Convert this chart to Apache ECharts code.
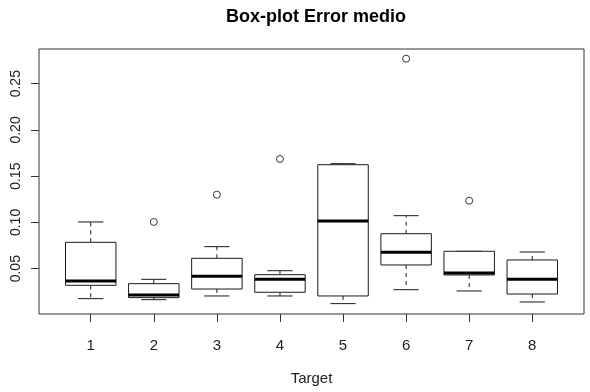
<!DOCTYPE html>
<html>
<head>
<meta charset="utf-8">
<style>
  html, body { margin: 0; padding: 0; background: #fff; }
  #chart { width: 590px; height: 392px; }
</style>
<script src="https://cdn.jsdelivr.net/npm/echarts@6/dist/echarts.min.js"></script>
</head>
<body>
<div id="chart"></div>
<script>
// categorias (Target) y estadisticos de cada caja
const categories = ['1', '2', '3', '4', '5', '6', '7', '8'];
const lowWhisker = [0.0176, 0.0165, 0.0205, 0.0205, 0.0122, 0.0273, 0.0259, 0.0140];
const q1 = [0.0320, 0.0187, 0.0280, 0.0245, 0.0205, 0.0540, 0.0432, 0.0226];
const median = [0.0367, 0.0216, 0.0418, 0.0385, 0.1016, 0.0677, 0.0453, 0.0385];
const q3 = [0.0785, 0.0338, 0.0612, 0.0435, 0.1624, 0.0878, 0.0688, 0.0594];
const highWhisker = [0.1005, 0.0385, 0.0738, 0.0478, 0.1635, 0.1073, 0.0688, 0.0680];
// valores atipicos [target, valor]
const outliers = [[2, 0.1005], [3, 0.1300], [4, 0.1686], [6, 0.2770], [7, 0.1235]];
const yTicks = [0.05, 0.10, 0.15, 0.20, 0.25];

const chart = echarts.init(document.getElementById('chart'));

const boxData = categories.map((c, i) => [i + 1, lowWhisker[i], q1[i], median[i], q3[i], highWhisker[i]]);
const lineColor = '#1a1a1a';

function renderBox(params, api) {
  const x = api.value(0);
  const lo = api.coord([x, api.value(1)]);
  const b1 = api.coord([x, api.value(2)]);
  const md = api.coord([x, api.value(3)]);
  const b3 = api.coord([x, api.value(4)]);
  const hi = api.coord([x, api.value(5)]);
  const w = api.size([0.8, 0])[0];
  const cap = w / 2;
  const cx = lo[0];
  const thin = { stroke: lineColor, lineWidth: 1, fill: null };
  const dashed = { stroke: lineColor, lineWidth: 1, lineDash: [4, 4] };
  const children = [];
  if (hi[1] < b3[1] - 0.5) {
    children.push({ type: 'line', shape: { x1: cx, y1: b3[1], x2: cx, y2: hi[1] }, style: dashed });
  }
  children.push({ type: 'line', shape: { x1: cx - cap / 2, y1: hi[1], x2: cx + cap / 2, y2: hi[1] }, style: thin });
  children.push({ type: 'line', shape: { x1: cx, y1: b1[1], x2: cx, y2: lo[1] }, style: dashed });
  children.push({ type: 'line', shape: { x1: cx - cap / 2, y1: lo[1], x2: cx + cap / 2, y2: lo[1] }, style: thin });
  children.push({ type: 'rect', shape: { x: cx - w / 2, y: b3[1], width: w, height: b1[1] - b3[1] }, style: { stroke: lineColor, lineWidth: 1, fill: '#fff' } });
  children.push({ type: 'line', shape: { x1: cx - w / 2, y1: md[1], x2: cx + w / 2, y2: md[1] }, style: { stroke: '#000', lineWidth: 3 } });
  return { type: 'group', children: children };
}

chart.setOption({
  backgroundColor: '#fff',
  animation: false,
  title: {
    text: 'Box-plot Error medio',
    left: 311,
    top: 3,
    textAlign: 'center',
    textStyle: { fontFamily: 'Liberation Sans', fontWeight: 'bold', fontSize: 18, color: '#000' }
  },
  grid: {
    left: 39, top: 49, right: 6, bottom: 78,
    show: true, borderColor: '#333', borderWidth: 1
  },
  xAxis: {
    type: 'value',
    min: 0.18,
    max: 8.82,
    name: 'Target',
    nameLocation: 'middle',
    nameGap: 57,
    nameTextStyle: { fontFamily: 'Liberation Sans', fontSize: 15, color: '#222' },
    axisLine: { show: false },
    splitLine: { show: false },
    axisTick: { show: true, length: 8, customValues: [1, 2, 3, 4, 5, 6, 7, 8], lineStyle: { color: '#333' } },
    axisLabel: {
      customValues: [1, 2, 3, 4, 5, 6, 7, 8],
      margin: 24,
      fontFamily: 'Liberation Sans', fontSize: 15, color: '#222',
      formatter: v => categories[Math.round(v) - 1]
    }
  },
  yAxis: {
    type: 'value',
    min: 0.001,
    max: 0.2875,
    axisLine: { show: false },
    splitLine: { show: false },
    axisTick: { show: true, length: 8, customValues: yTicks, lineStyle: { color: '#333' } },
    axisLabel: {
      customValues: yTicks,
      rotate: 90,
      margin: 16,
      fontFamily: 'Liberation Sans', fontSize: 14, color: '#222',
      formatter: v => v.toFixed(2)
    }
  },
  series: [
    {
      type: 'custom',
      renderItem: renderBox,
      data: boxData,
      encode: { x: 0, y: [1, 2, 3, 4, 5] },
      clip: true
    },
    {
      type: 'scatter',
      data: outliers,
      symbol: 'circle',
      symbolSize: 7,
      z: 5,
      itemStyle: { color: '#fff', borderColor: '#333', borderWidth: 1, opacity: 1 }
    }
  ]
});
</script>
</body>
</html>
